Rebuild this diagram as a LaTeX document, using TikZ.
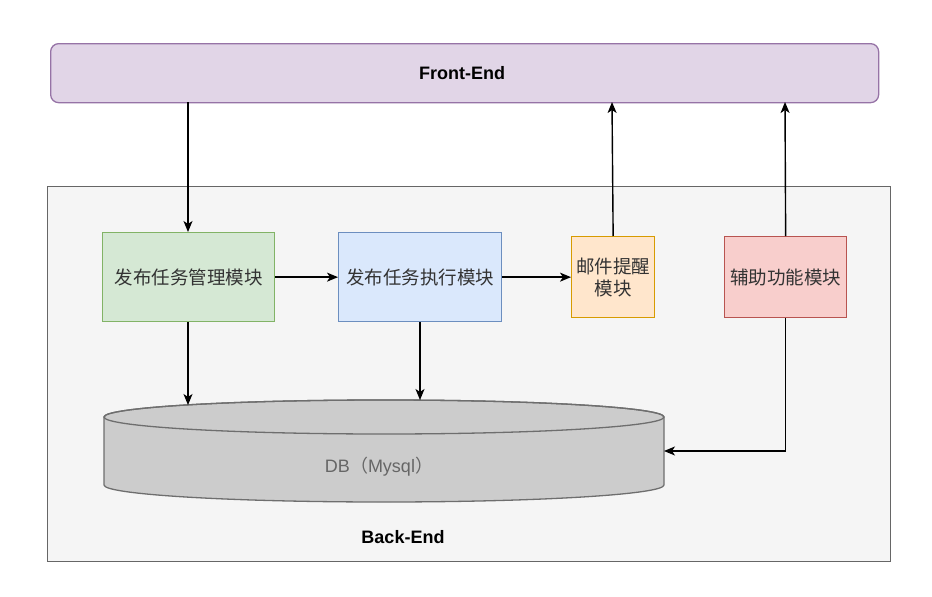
\documentclass[tikz,border=0pt]{standalone}
\usepackage{fontspec}
\setmainfont{Liberation Sans}
\newfontfamily\cjk{Noto Sans CJK SC}
\usetikzlibrary{arrows.meta}
\definecolor{feFill}{HTML}{E1D5E7}\definecolor{feLine}{HTML}{9673A6}
\definecolor{beFill}{HTML}{F5F5F5}\definecolor{beLine}{HTML}{666666}
\definecolor{gFill}{HTML}{D5E8D4}\definecolor{gLine}{HTML}{82B366}
\definecolor{bFill}{HTML}{DAE8FC}\definecolor{bLine}{HTML}{6C8EBF}
\definecolor{oFill}{HTML}{FFE6CC}\definecolor{oLine}{HTML}{D79B00}
\definecolor{rFill}{HTML}{F8CECC}\definecolor{rLine}{HTML}{B85450}
\definecolor{dbFill}{HTML}{CCCCCC}\definecolor{dbLine}{HTML}{6E6E6E}
\definecolor{txt}{HTML}{333333}
\begin{document}
\begin{tikzpicture}[x=1pt,y=-1pt,
  modbox/.style={draw, line width=1.3pt, inner sep=0pt, anchor=north west, text=txt,
     font=\fontsize{18.5}{22}\selectfont\cjk, align=center},
  conn/.style={line width=1.4pt, -{Stealth[length=11pt,width=9pt,inset=3pt]}},
  lbl/.style={font=\fontsize{18}{22}\selectfont\bfseries, text=black}]
\useasboundingbox (0,0) rectangle (932,597);
\fill[white] (0,0) rectangle (932,597);
% containers
\node[draw=beLine, fill=beFill, line width=1.3pt, minimum width=843pt, minimum height=375pt,
  anchor=north west, inner sep=0pt] (be) at (47,186) {};
\node[lbl] (belbl) at (403,537) {Back-End};
\node[draw=feLine, fill=feFill, line width=1.3pt, rounded corners=8pt, minimum width=828pt,
  minimum height=59pt, anchor=north west, inner sep=0pt] (fe) at (50,43) {};
\node[lbl] (felbl) at (462,73) {Front-End};
% modules
\node[modbox, draw=gLine, fill=gFill, minimum width=172pt, minimum height=89pt] (m1) at (102,232) {发布任务管理模块};
\node[modbox, draw=bLine, fill=bFill, minimum width=163pt, minimum height=89pt] (m2) at (338,232) {发布任务执行模块};
\node[modbox, draw=oLine, fill=oFill, minimum width=83pt, minimum height=81pt] (m3) at (571,236) {邮件提醒\\模块};
\node[modbox, draw=rLine, fill=rFill, minimum width=122pt, minimum height=81pt] (m4) at (724,236) {辅助功能模块};
% database cylinder
\path[draw=dbLine, fill=dbFill, line width=1.3pt]
  (104,417) -- (104,485) arc[start angle=180, end angle=0, x radius=280, y radius=17]
  -- (664,417) arc[start angle=0, end angle=-180, x radius=280, y radius=17] -- cycle;
\draw[dbLine, line width=1.3pt] (384,417) ellipse[x radius=280, y radius=17];
\node[inner sep=0pt, minimum width=560pt, minimum height=102pt, anchor=north west] (db) at (104,400) {};
\node[font=\fontsize{18}{20}\selectfont, text=beLine] (dblbl) at (379,467) {DB{\cjk（}Mysql{\cjk）}};
\coordinate (db1) at (188,405);
\coordinate (db2) at (420,400);
\coordinate (db3) at (664,451);
\coordinate (fe1) at (188,102);
\coordinate (fe3) at (612,102);
\coordinate (fe4) at (785,102);
% connectors
\draw[conn] (fe1) -- (m1.north -| fe1);
\draw[conn] (m1.east) -- (m2.west);
\draw[conn] (m2.east) -- (m3.west);
\draw[conn] (m3.north) -- (fe3);
\draw[conn] (m4.north) -- (fe4);
\draw[conn] (m1.south -| db1) -- (db1);
\draw[conn] (m2.south -| db2) -- (db2);
\draw[conn] (m4.south) |- (db3);
\end{tikzpicture}
\end{document}
